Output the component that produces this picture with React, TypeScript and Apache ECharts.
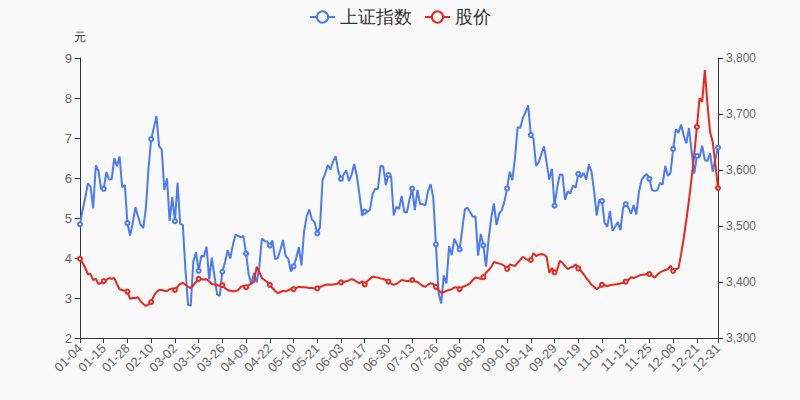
import React, { useEffect, useRef } from "react";
import * as echarts from "echarts";

// Trading days of 2021 per month
const tradingDays: number[][] = [
  [4, 5, 6, 7, 8, 11, 12, 13, 14, 15, 18, 19, 20, 21, 22, 25, 26, 27, 28, 29],
  [1, 2, 3, 4, 5, 8, 9, 10, 18, 19, 22, 23, 24, 25, 26],
  [1, 2, 3, 4, 5, 8, 9, 10, 11, 12, 15, 16, 17, 18, 19, 22, 23, 24, 25, 26, 29, 30, 31],
  [1, 2, 6, 7, 8, 9, 12, 13, 14, 15, 16, 19, 20, 21, 22, 23, 26, 27, 28, 29, 30],
  [6, 7, 10, 11, 12, 13, 14, 17, 18, 19, 20, 21, 24, 25, 26, 27, 28, 31],
  [1, 2, 3, 4, 7, 8, 9, 10, 11, 15, 16, 17, 18, 21, 22, 23, 24, 25, 28, 29, 30],
  [1, 2, 5, 6, 7, 8, 9, 12, 13, 14, 15, 16, 19, 20, 21, 22, 23, 26, 27, 28, 29, 30],
  [2, 3, 4, 5, 6, 9, 10, 11, 12, 13, 16, 17, 18, 19, 20, 23, 24, 25, 26, 27, 30, 31],
  [1, 2, 3, 6, 7, 8, 9, 10, 13, 14, 15, 16, 17, 22, 23, 24, 27, 28, 29, 30],
  [8, 11, 12, 13, 14, 15, 18, 19, 20, 21, 22, 25, 26, 27, 28, 29],
  [1, 2, 3, 4, 5, 8, 9, 10, 11, 12, 15, 16, 17, 18, 19, 22, 23, 24, 25, 26, 29, 30],
  [1, 2, 3, 6, 7, 8, 9, 10, 13, 14, 15, 16, 17, 20, 21, 22, 23, 24, 27, 28, 29, 30, 31],
];

const pad = (n: number) => (n < 10 ? "0" + n : "" + n);
const categories: string[] = tradingDays.flatMap((days, m) => days.map((d) => pad(m + 1) + "-" + pad(d)));

// 上证指数 (right axis)
const sseIndex: number[] = [
  // Jan
  3502.96, 3528.68, 3550.88, 3576.2, 3570.11, 3531.5, 3608.34, 3598.65, 3565.9, 3566.38,
  3596.22, 3583.09, 3583.37, 3621.26, 3606.75, 3624.24, 3569.43, 3573.34, 3505.18, 3483.07,
  // Feb
  3505.28, 3533.68, 3517.31, 3501.86, 3496.33, 3532.44, 3603.49, 3655.09, 3675.36, 3696.17,
  3642.44, 3636.36, 3564.08, 3585.05, 3509.08,
  // Mar
  3551.4, 3508.59, 3576.9, 3503.49, 3501.99, 3421.41, 3359.29, 3357.74, 3436.83, 3453.08,
  3419.95, 3446.73, 3445.55, 3463.07, 3404.66, 3443.44, 3411.51, 3378.0, 3375.0, 3418.33,
  3435.3, 3456.68, 3441.91,
  // Apr
  3466.33, 3484.39, 3482.48, 3479.63, 3482.55, 3450.68, 3412.95, 3396.47, 3416.6, 3398.99,
  3426.62, 3477.55, 3472.94, 3472.31, 3465.11, 3474.17, 3441.17, 3442.61, 3457.07, 3474.9,
  3446.86,
  // May
  3441.28, 3418.87, 3427.99, 3441.85, 3462.75, 3429.54, 3490.38, 3517.62, 3529.01, 3510.96,
  3506.94, 3486.56, 3497.28, 3581.34, 3593.36, 3608.85, 3600.78, 3615.48,
  // Jun
  3624.71, 3597.14, 3584.22, 3591.84, 3599.54, 3580.11, 3591.4, 3610.86, 3589.75, 3556.56,
  3518.33, 3525.6, 3525.1, 3529.18, 3557.41, 3566.65, 3566.22, 3607.56, 3606.37, 3573.18,
  3591.2,
  // Jul
  3588.78, 3518.76, 3534.32, 3530.26, 3553.72, 3525.5, 3524.09, 3547.84, 3566.73, 3528.5,
  3564.59, 3539.3, 3539.12, 3536.79, 3562.3, 3574.73, 3550.4, 3467.44, 3381.18, 3361.64,
  3411.72, 3397.36,
  // Aug
  3464.29, 3447.99, 3477.22, 3466.56, 3458.23, 3494.63, 3529.93, 3532.62, 3524.74, 3516.3,
  3517.34, 3446.98, 3485.29, 3465.55, 3427.33, 3477.13, 3514.47, 3540.38, 3501.66, 3522.16,
  3528.15, 3543.94,
  // Sep
  3567.1, 3597.04, 3581.73, 3621.86, 3676.59, 3675.19, 3693.13, 3703.11, 3715.37, 3662.6,
  3656.22, 3607.09, 3613.97, 3628.49, 3642.22, 3613.07, 3582.83, 3602.22, 3536.29, 3568.17,
  // Oct
  3592.17, 3591.71, 3546.94, 3561.76, 3558.28, 3572.37, 3568.14, 3593.15, 3587.0, 3594.78,
  3582.6, 3609.86, 3597.64, 3562.31, 3518.42, 3547.34,
  // Nov
  3544.48, 3505.63, 3498.54, 3526.87, 3491.57, 3498.63, 3507.0, 3492.46, 3532.79, 3539.1,
  3533.3, 3521.79, 3537.37, 3520.71, 3560.37, 3582.08, 3589.09, 3592.7, 3584.18, 3564.09,
  3562.7, 3563.89,
  // Dec
  3576.89, 3573.84, 3607.43, 3589.31, 3595.09, 3637.57, 3673.04, 3666.35, 3681.08, 3661.53,
  3647.63, 3675.02, 3632.36, 3593.6, 3625.13, 3622.62, 3643.34, 3618.05, 3615.97, 3630.11,
  3597.0, 3619.19, 3639.78,
];

// 股价 (left axis, 元)
const stockPrice: number[] = [
  // Jan
  3.98, 3.88, 3.75, 3.6, 3.6, 3.45, 3.48, 3.35, 3.38, 3.42,
  3.45, 3.5, 3.48, 3.5, 3.35, 3.22, 3.2, 3.18, 3.16, 2.98,
  // Feb
  3.0, 3.0, 3.02, 2.92, 2.85, 2.8, 2.84, 2.9, 3.05, 3.15,
  3.2, 3.2, 3.18, 3.17, 3.22,
  // Mar
  3.24, 3.2, 3.28, 3.35, 3.38, 3.33, 3.28, 3.25, 3.32, 3.4,
  3.48, 3.47, 3.46, 3.47, 3.42, 3.35, 3.34, 3.33, 3.3, 3.32,
  3.25, 3.2, 3.18,
  // Apr
  3.17, 3.17, 3.2, 3.28, 3.3, 3.27, 3.32, 3.36, 3.4, 3.78,
  3.65, 3.5, 3.45, 3.4, 3.33, 3.25, 3.18, 3.12, 3.15, 3.18,
  3.16,
  // May
  3.2, 3.22, 3.22, 3.25, 3.28, 3.27, 3.27, 3.26, 3.25, 3.25,
  3.24, 3.24, 3.27, 3.3, 3.33, 3.34, 3.33, 3.34,
  // Jun
  3.35, 3.37, 3.39, 3.4, 3.42, 3.44, 3.47, 3.45, 3.4, 3.37,
  3.42, 3.34, 3.42, 3.48, 3.54, 3.52, 3.51, 3.49, 3.48, 3.45,
  3.41,
  // Jul
  3.36, 3.33, 3.35, 3.4, 3.45, 3.44, 3.42, 3.43, 3.45, 3.42,
  3.4, 3.35, 3.3, 3.28, 3.33, 3.37, 3.35, 3.28, 3.2, 3.13,
  3.15, 3.18,
  // Aug
  3.2, 3.22, 3.26, 3.27, 3.22, 3.27, 3.3, 3.33, 3.37, 3.45,
  3.51, 3.5, 3.48, 3.52, 3.63, 3.7, 3.78, 3.9, 3.88, 3.86,
  3.84, 3.8,
  // Sep
  3.73, 3.84, 3.82, 3.8, 3.88, 3.95, 4.03, 3.98, 3.95, 3.95,
  4.12, 4.05, 4.08, 4.1, 4.08, 4.03, 3.63, 3.75, 3.64, 3.7,
  // Oct
  3.93, 3.88, 3.8, 3.72, 3.76, 3.78, 3.84, 3.74, 3.68, 3.6,
  3.5, 3.42, 3.33, 3.28, 3.22, 3.27,
  // Nov
  3.33, 3.32, 3.3, 3.32, 3.33, 3.34, 3.35, 3.36, 3.38, 3.41,
  3.45, 3.52, 3.5, 3.53, 3.56, 3.58, 3.58, 3.6, 3.6, 3.56,
  3.51, 3.58,
  // Dec
  3.64, 3.67, 3.7, 3.72, 3.81, 3.68, 3.72, 3.74, 4.09, 4.5,
  4.95, 5.45, 6.0, 6.6, 7.28, 8.0, 7.9, 8.7, 7.85, 7.15,
  6.9, 6.35, 5.75,
];

const leftTicks = { min: 2, max: 9, interval: 1 };
const rightTicks = { min: 3300, max: 3800, interval: 100 };

export default function App() {
  const ref = useRef<HTMLDivElement>(null);
  useEffect(() => {
    if (!ref.current) return;
    document.body.style.margin = "0";
    const chart = echarts.init(ref.current, undefined, { renderer: "svg" });
    chart.setOption({
      animation: false,
      backgroundColor: "#f9f9f9",
      legend: {
        top: 3,
        left: "center",
        itemGap: 12,
        textStyle: { fontSize: 18, color: "#333" },
        data: ["上证指数", "股价"],
      },
      grid: { left: 80, right: 82, top: 58, bottom: 62 },
      xAxis: {
        type: "category",
        data: categories,
        boundaryGap: false,
        axisLine: { lineStyle: { color: "#333" } },
        axisTick: { interval: 8, lineStyle: { color: "#333" } },
        axisLabel: { rotate: 45, interval: 8, color: "#666", fontSize: 13, showMaxLabel: true },
      },
      yAxis: [
        {
          type: "value",
          name: "元",
          nameTextStyle: { color: "#333", fontSize: 12 },
          min: leftTicks.min,
          max: leftTicks.max,
          interval: leftTicks.interval,
          axisLine: { show: true, lineStyle: { color: "#333" } },
          axisTick: { show: true, lineStyle: { color: "#333" } },
          axisLabel: { color: "#666", fontSize: 13 },
          splitLine: { show: false },
        },
        {
          type: "value",
          min: rightTicks.min,
          max: rightTicks.max,
          interval: rightTicks.interval,
          axisLine: { show: true, lineStyle: { color: "#333" } },
          axisTick: { show: true, lineStyle: { color: "#333" } },
          axisLabel: { color: "#666", fontSize: 12 },
          splitLine: { show: false },
        },
      ],
      series: [
        {
          name: "上证指数",
          type: "line",
          yAxisIndex: 1,
          data: sseIndex,
          symbol: "emptyCircle",
          symbolSize: 4,
          itemStyle: { color: "#4a7af5", borderWidth: 1 },
          lineStyle: { width: 2, color: "#4a7af5" },
        },
        {
          name: "股价",
          type: "line",
          yAxisIndex: 0,
          data: stockPrice,
          symbol: "emptyCircle",
          symbolSize: 4,
          itemStyle: { color: "#e8281e", borderWidth: 1 },
          lineStyle: { width: 2, color: "#e8281e" },
        },
      ],
    });
    return () => chart.dispose();
  }, []);
  return <div ref={ref} style={{ width: 800, height: 400 }} />;
}
